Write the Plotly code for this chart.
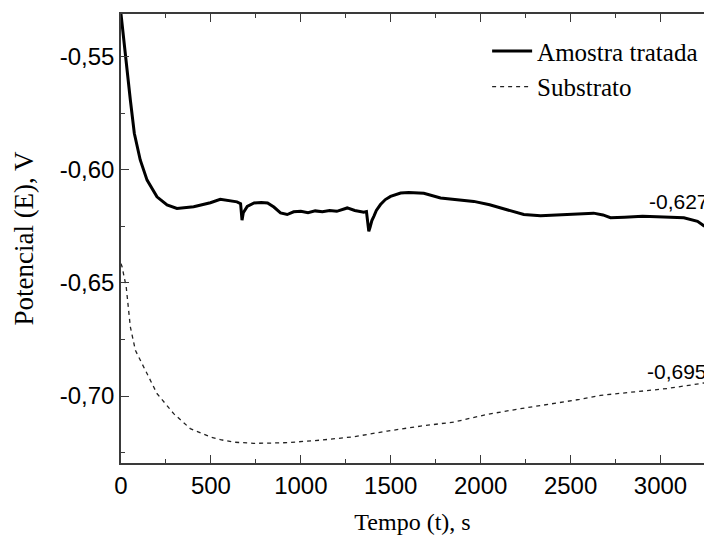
import plotly.graph_objects as go

# Amostra tratada (treated sample)
t_tratada = [0, 11, 29, 52, 74, 107, 145, 200, 256, 311, 404, 497, 552, 600, 645, 665, 673, 680,
             702, 740, 780, 815, 850, 887, 924, 960, 1000, 1040, 1080, 1120, 1160, 1200, 1224,
             1258, 1300, 1350, 1365, 1372, 1378, 1385, 1395, 1406, 1420, 1443, 1470, 1499, 1530,
             1555, 1600, 1684, 1777, 1870, 1962, 2050, 2148, 2240, 2333, 2444, 2540, 2628, 2680,
             2722, 2800, 2900, 2980, 3056, 3130, 3206, 3245]
v_tratada = [-0.5312, -0.5397, -0.5544, -0.5692, -0.5839, -0.5957, -0.6046, -0.6120, -0.6156,
             -0.6171, -0.6164, -0.6146, -0.6131, -0.6136, -0.6142, -0.6150, -0.6223, -0.6190,
             -0.6162, -0.6147, -0.6145, -0.6147, -0.6165, -0.6191, -0.6198, -0.6186, -0.6184,
             -0.6190, -0.6182, -0.6186, -0.6180, -0.6184, -0.6178, -0.6169, -0.6180, -0.6188,
             -0.6185, -0.6240, -0.6272, -0.6255, -0.6225, -0.6206, -0.6180, -0.6154, -0.6132,
             -0.6118, -0.6108, -0.6103, -0.6101, -0.6104, -0.6125, -0.6132, -0.6140, -0.6155,
             -0.6177, -0.6198, -0.6203, -0.6200, -0.6196, -0.6192, -0.6200, -0.6212, -0.6210,
             -0.6206, -0.6208, -0.6210, -0.6212, -0.6228, -0.6250]

# Substrato (substrate)
t_substrato = [0, 6, 29, 52, 80, 126, 200, 293, 385, 497, 553, 626, 737, 830, 924, 1110, 1295,
               1480, 1666, 1851, 2037, 2222, 2400, 2550, 2667, 2851, 3037, 3222, 3245]
v_substrato = [-0.6415, -0.6429, -0.6518, -0.6695, -0.6798, -0.6872, -0.6989, -0.7078, -0.7144,
               -0.7181, -0.7193, -0.7204, -0.7209, -0.7208, -0.7206, -0.7195, -0.7180, -0.7155,
               -0.7133, -0.7115, -0.7081, -0.7056, -0.7035, -0.7015, -0.6997, -0.6982, -0.6967,
               -0.6945, -0.6942]

serie_nomes = ["Amostra tratada", "Substrato"]
rotulos_finais = ["-0,627", "-0,695"]
x_ticks = [0, 500, 1000, 1500, 2000, 2500, 3000]
y_ticks = [-0.55, -0.60, -0.65, -0.70]
y_ticktext = ["-0,55", "-0,60", "-0,65", "-0,70"]

SERIF = "Liberation Serif, Times New Roman, serif"
SANS = "Liberation Sans, Arial, sans-serif"
AXC = "#3a3a3a"

fig = go.Figure()
fig.add_trace(go.Scatter(x=t_tratada, y=v_tratada, mode="lines", name=serie_nomes[0],
                         line=dict(color="black", width=3)))
fig.add_trace(go.Scatter(x=t_substrato, y=v_substrato, mode="lines", name=serie_nomes[1],
                         line=dict(color="#222222", width=1.3, dash="4px,4px")))

# end-value labels
fig.add_annotation(x=2927, y=-0.6140, xref="x", yref="y", text=rotulos_finais[0],
                   showarrow=False, xanchor="left", yanchor="middle",
                   font=dict(family=SANS, size=21, color="black"))
fig.add_annotation(x=2916, y=-0.6890, xref="x", yref="y", text=rotulos_finais[1],
                   showarrow=False, xanchor="left", yanchor="middle",
                   font=dict(family=SANS, size=21, color="black"))

fig.update_layout(
    width=704, height=539,
    margin=dict(l=121, r=0, t=14, b=76),
    paper_bgcolor="white", plot_bgcolor="white",
    showlegend=True,
    legend=dict(x=0.628, y=0.968, xanchor="left", yanchor="top",
                bgcolor="rgba(0,0,0,0)", borderwidth=0,
                font=dict(family=SERIF, size=25, color="black"),
                tracegroupgap=0, itemwidth=40),
    xaxis=dict(range=[0, 3242], tickvals=x_ticks, ticktext=[str(v) for v in x_ticks],
               ticks="inside", ticklen=8, tickwidth=1.3, tickcolor=AXC,
               minor=dict(ticks="inside", ticklen=4, tickwidth=1.3, tickcolor=AXC, dtick=250, tick0=0),
               showline=True, linecolor=AXC, linewidth=1.5, mirror="allticks",
               showgrid=False, zeroline=False,
               tickfont=dict(family=SANS, size=24, color="black"),
               title=dict(text="Tempo (t), s", font=dict(family=SERIF, size=24, color="black"),
                          standoff=16)),
    yaxis=dict(range=[-0.7296, -0.5312], tickvals=y_ticks, ticktext=y_ticktext,
               ticks="inside", ticklen=8, tickwidth=1.3, tickcolor=AXC,
               minor=dict(ticks="inside", ticklen=4, tickwidth=1.3, tickcolor=AXC,
                          tickvals=[-0.575, -0.625, -0.675, -0.725]),
               showline=True, linecolor=AXC, linewidth=1.5, mirror=False,
               showgrid=False, zeroline=False,
               tickfont=dict(family=SANS, size=24, color="black"),
               title=dict(text="Potencial (E), V", font=dict(family=SERIF, size=27, color="black"),
                          standoff=18)),
)

fig.write_html("out.html")
